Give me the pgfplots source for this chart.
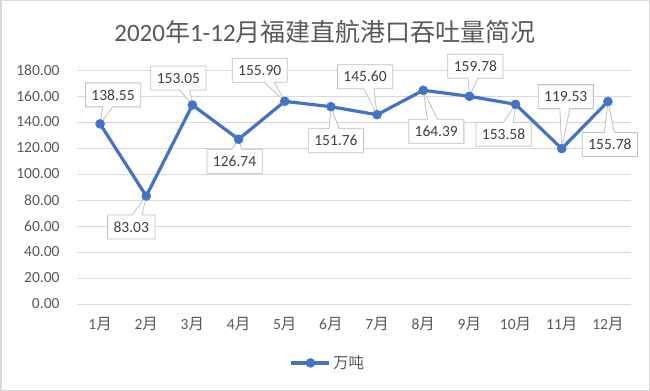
\documentclass[border=0pt]{standalone}
\usepackage{pgfplots}
\pgfplotsset{compat=1.18}
\usepackage{fontspec}
\setmainfont{Carlito}
\newfontfamily\cjk{Noto Sans CJK SC}
\usetikzlibrary{shapes.callouts}
\definecolor{lineblue}{HTML}{4472C4}
\definecolor{gridgray}{HTML}{D9D9D9}
\definecolor{txtgray}{HTML}{595959}
\definecolor{lbltxt}{HTML}{404040}
\definecolor{boxgray}{HTML}{BFBFBF}
\tikzset{lbl/.style={rectangle callout, draw=boxgray, fill=white, text=lbltxt,
  font=\fontsize{15.5bp}{18bp}\selectfont, minimum height=24bp, inner xsep=6bp, inner ysep=2bp,
  callout pointer width=10bp, line width=0.8bp}}
\newcommand{\lab}[4]{\node[lbl, callout absolute pointer={(axis cs:#1,#2)}] at ([shift={(#3,#4)}]axis cs:#1,#2) {#2};}
\begin{document}
\begin{tikzpicture}
\useasboundingbox (0,0) rectangle (650bp,391bp);
\fill[white] (0,0) rectangle (650bp,391bp);
\draw[gridgray, line width=1.5bp] (0.75bp,0.75bp) rectangle (649.25bp,390.25bp);
\node[txtgray, font=\fontsize{25bp}{30bp}\selectfont] at (325bp,359bp) {2020{\cjk 年}1-12{\cjk 月福建直航港口吞吐量简况}};
\begin{axis}[
 at={(77bp,87bp)}, anchor=south west,
 scale only axis, width=554bp, height=234bp,
 xmin=-0.5, xmax=11.5, ymin=0, ymax=180,
 clip=false,
 xtick={0,...,11},
 xticklabels={1{\cjk 月},2{\cjk 月},3{\cjk 月},4{\cjk 月},5{\cjk 月},6{\cjk 月},7{\cjk 月},8{\cjk 月},9{\cjk 月},10{\cjk 月},11{\cjk 月},12{\cjk 月}},
 ytick={0,20,...,180},
 axis line style={draw=none},
 tick style={draw=none},
 major tick length=0pt,
 ymajorgrids, grid style={gridgray, line width=0.8bp},
 tick label style={txtgray, font=\fontsize{15.5bp}{18bp}\selectfont},
 yticklabel style={xshift=-14bp},
 xticklabel style={yshift=-10bp},
 /pgf/number format/.cd, fixed, fixed zerofill, precision=2, assume math mode=true,
 /pgfplots/.cd,
 legend style={at={(0.453,-0.252)}, anchor=center, draw=none, fill=none, text=txtgray,
   font=\fontsize{15.5bp}{18bp}\selectfont},
 legend image code/.code={\draw[mark repeat=2,mark phase=2,#1] plot coordinates {(0bp,0bp)(19bp,0bp)(38bp,0bp)};},
]
\addplot[lineblue, line width=3.2bp, mark=*, mark size=4.5bp, mark options={fill=lineblue, draw=lineblue, line width=0.5bp}]
 coordinates {(0,138.55)(1,83.03)(2,153.05)(3,126.74)(4,155.90)(5,151.76)(6,145.60)(7,164.39)(8,159.78)(9,153.58)(10,119.53)(11,155.78)};
\addlegendentry{\cjk 万吨}
\lab{0}{138.55}{13bp}{29bp}
\lab{1}{83.03}{-15bp}{-31bp}
\lab{2}{153.05}{-14bp}{27bp}
\lab{3}{126.74}{-4bp}{-22bp}
\lab{4}{155.90}{-25bp}{31bp}
\lab{5}{151.76}{5bp}{-34bp}
\lab{6}{145.60}{-12bp}{38bp}
\lab{7}{164.39}{13bp}{-41bp}
\lab{8}{159.78}{6bp}{30bp}
\lab{9}{153.58}{-12bp}{-30bp}
\lab{10}{119.53}{4bp}{52bp}
\lab{11}{155.78}{2bp}{-43bp}
\end{axis}
\end{tikzpicture}
\end{document}
